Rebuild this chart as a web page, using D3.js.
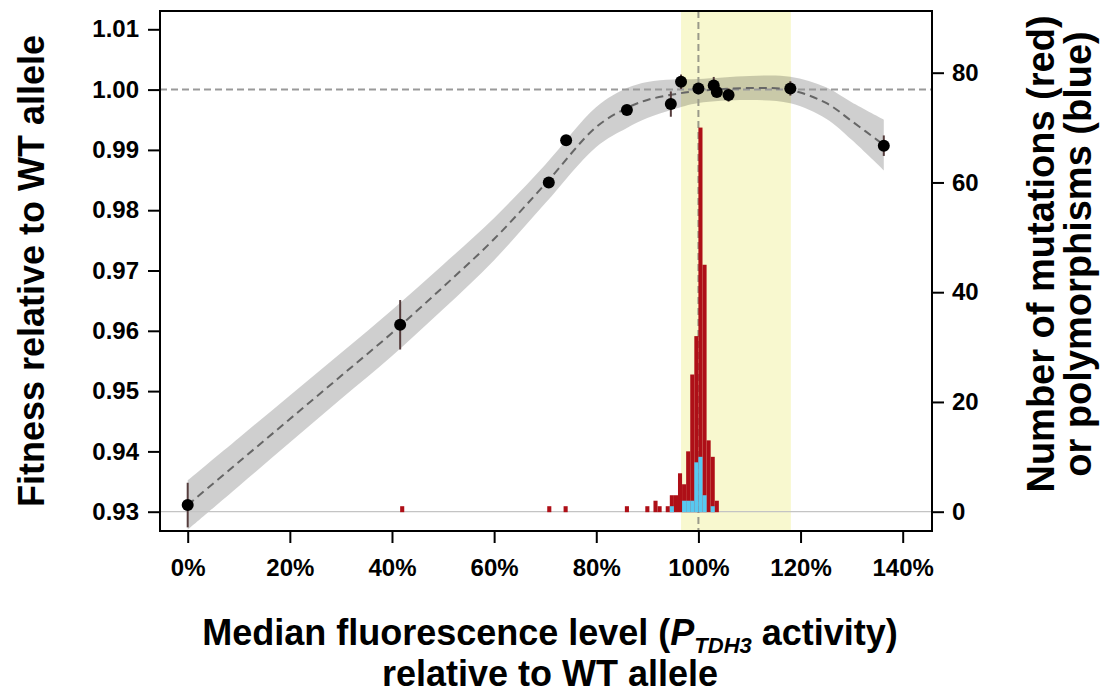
<!DOCTYPE html>
<html>
<head>
<meta charset="utf-8">
<script src="https://cdn.jsdelivr.net/npm/d3@7"></script>
<style>
  body { margin: 0; background: #fff; }
  svg { display: block; font-family: "Liberation Sans", Arial, Helvetica, sans-serif; }
</style>
</head>
<body>
<svg id="canvas"></svg>
<script>
// tick labels
let xTicks = [0, 20, 40, 60, 80, 100, 120, 140];
let yTicks = [0.93, 0.94, 0.95, 0.96, 0.97, 0.98, 0.99, 1.00, 1.01];
let countTicks = [0, 20, 40, 60, 80];

// fitness of each allele (x = % of WT fluorescence)
let pointX   = [0, 41.6, 70.7, 74.1, 86.0, 94.6, 96.6, 100.0, 103.0, 103.6, 105.9, 118.0, 136.3];
let pointFit = [0.9311, 0.9610, 0.9846, 0.9916, 0.9966, 0.9976, 1.0013, 1.0002, 1.0007, 0.9996, 0.9991, 1.0002, 0.9907];
let pointErr = [0.0037, 0.0041, 0.0008, 0.0008, 0.0008, 0.0021, 0.0012, 0.0008, 0.0014, 0.0008, 0.0011, 0.0012, 0.0017];

// fitted curve and its confidence band half width
let fitX    = [0, 10, 20, 30, 40, 50, 60, 70, 80, 86, 90, 95, 100, 110, 118, 125, 130, 136.3];
let fitY    = [0.93111, 0.93824, 0.94537, 0.95250, 0.95964, 0.96726, 0.97522, 0.98434, 0.99380, 0.99695, 0.99828, 0.99919, 0.99977, 1.00027, 0.99993, 0.99778, 0.99479, 0.99081];
let fitHalf = [0.0041, 0.0040, 0.0039, 0.0038, 0.0038, 0.0037, 0.0035, 0.0032, 0.0033, 0.0033, 0.0030, 0.0025, 0.0020, 0.0020, 0.0022, 0.0026, 0.0031, 0.0042];

// histograms (bin start, width 0.8%)
let binWidth = 0.8;
let redBins   = [41.6, 70.4, 73.6, 85.6, 89.6, 91.2, 92.0, 93.6, 94.4, 95.2, 96.0, 96.8, 97.6, 98.4, 99.2, 100.0, 100.8, 101.6, 102.4, 103.2];
let redCounts = [1, 1, 1, 1, 1, 2, 1, 1, 3, 3, 7, 5, 11, 25, 32, 70, 45, 13, 10, 2];
let blueBins   = [94.4, 96.8, 97.6, 98.4, 99.2, 100.0, 100.8, 102.4];
let blueCounts = [1, 2, 2, 2, 9, 10, 3, 1];

// highlighted range
let bandRange = [96.6, 118.1];

let width = 1100;
let height = 693;
let boxLeft = 160, boxRight = 932, boxTop = 11, boxBottom = 531;

let canvas = d3.select("#canvas").attr("width", width).attr("height", height);

let xScale = d3.scaleLinear().domain([0, 140]).range([187.7, 902.7]);
let yScale = d3.scaleLinear().domain([0.93, 1.01]).range([511.7, 29.3]);
let countScale = d3.scaleLinear().domain([0, 80]).range([511.7, 72.7]);

// yellow band
canvas.append("rect")
      .attr("x", xScale(bandRange[0]))
      .attr("y", boxTop)
      .attr("width", xScale(bandRange[1]) - xScale(bandRange[0]))
      .attr("height", boxBottom - boxTop)
      .attr("fill", "#f8f8cf");

// confidence band
let fitData = fitX.map((d, i) => ({x: d, y: fitY[i], h: fitHalf[i]}));
canvas.append("path")
      .datum(fitData)
      .attr("d", d3.area()
                   .x(d => xScale(d.x))
                   .y0(d => yScale(d.y - d.h))
                   .y1(d => yScale(d.y + d.h))
                   .curve(d3.curveCatmullRom))
      .attr("fill", "#000")
      .attr("fill-opacity", 0.19);

// zero line for counts
canvas.append("line")
      .attr("x1", boxLeft).attr("x2", boxRight)
      .attr("y1", countScale(0)).attr("y2", countScale(0))
      .attr("stroke", "#c4c4c4").attr("stroke-width", 1.2);

// reference lines
canvas.append("line")
      .attr("x1", boxLeft).attr("x2", boxRight)
      .attr("y1", yScale(1)).attr("y2", yScale(1))
      .attr("stroke", "#9a9a9a").attr("stroke-width", 2)
      .attr("stroke-dasharray", "7,4");
canvas.append("line")
      .attr("x1", xScale(100)).attr("x2", xScale(100))
      .attr("y1", boxTop).attr("y2", boxBottom)
      .attr("stroke", "#9a9a8a").attr("stroke-width", 2)
      .attr("stroke-dasharray", "7,4");

// histograms
let drawBars = (bins, counts, color) => {
  canvas.append("g")
        .selectAll("rect")
        .data(bins.map((b, i) => ({b: b, c: counts[i]})))
        .enter()
        .append("rect")
        .attr("x", d => xScale(d.b))
        .attr("width", d => xScale(d.b + binWidth) - xScale(d.b))
        .attr("y", d => countScale(d.c))
        .attr("height", d => countScale(0) - countScale(d.c) + 0.5)
        .attr("fill", color);
};
drawBars(redBins, redCounts, "#ae0f17");
drawBars(blueBins, blueCounts, "#58c9f0");

// fitted curve
canvas.append("path")
      .datum(fitData)
      .attr("d", d3.line()
                   .x(d => xScale(d.x))
                   .y(d => yScale(d.y))
                   .curve(d3.curveCatmullRom))
      .attr("fill", "none")
      .attr("stroke", "#666")
      .attr("stroke-width", 2)
      .attr("stroke-dasharray", "8,5");

// error bars and points
let points = pointX.map((d, i) => ({x: d, y: pointFit[i], e: pointErr[i]}));
canvas.append("g")
      .selectAll("line")
      .data(points)
      .enter()
      .append("line")
      .attr("x1", d => xScale(d.x)).attr("x2", d => xScale(d.x))
      .attr("y1", d => yScale(d.y - d.e)).attr("y2", d => yScale(d.y + d.e))
      .attr("stroke", "#563d3d").attr("stroke-width", 2);
canvas.append("g")
      .selectAll("circle")
      .data(points)
      .enter()
      .append("circle")
      .attr("cx", d => xScale(d.x))
      .attr("cy", d => yScale(d.y))
      .attr("r", 6)
      .attr("fill", "#000");

// box
canvas.append("rect")
      .attr("x", boxLeft).attr("y", boxTop)
      .attr("width", boxRight - boxLeft).attr("height", boxBottom - boxTop)
      .attr("fill", "none").attr("stroke", "#000").attr("stroke-width", 2);

// axes
let styleAxis = (g) => {
  g.select(".domain").remove();
  g.selectAll(".tick line").attr("stroke", "#000").attr("stroke-width", 2);
  g.selectAll("text")
   .attr("fill", "#000")
   .style("font-size", "24px")
   .style("font-weight", "bold")
   .style("font-family", "'Liberation Sans', Arial, sans-serif");
};

canvas.append("g")
      .attr("transform", "translate(0," + boxBottom + ")")
      .call(d3.axisBottom(xScale).tickValues(xTicks).tickSize(12).tickPadding(16).tickFormat(d => d + "%"))
      .call(styleAxis);

canvas.append("g")
      .attr("transform", "translate(" + boxLeft + ",0)")
      .call(d3.axisLeft(yScale).tickValues(yTicks).tickSize(12).tickPadding(9).tickFormat(d3.format(".2f")))
      .call(styleAxis);

canvas.append("g")
      .attr("transform", "translate(" + boxRight + ",0)")
      .call(d3.axisRight(countScale).tickValues(countTicks).tickSize(12).tickPadding(8))
      .call(styleAxis);

// titles
let title = (x, y, rot, size) => canvas.append("text")
      .attr("transform", "translate(" + x + "," + y + ")" + (rot ? " rotate(-90)" : ""))
      .attr("text-anchor", "middle")
      .attr("font-size", size || 36)
      .attr("font-weight", "bold")
      .attr("fill", "#000");

title(31, 271, true).attr("dy", "0.36em").text("Fitness relative to WT allele");
title(1040, 254, true, 38).attr("dy", "0.36em").text("Number of mutations (red)");
title(1077, 254, true, 38).attr("dy", "0.36em").text("or polymorphisms (blue)");

let xt = title(550, 645, false);
xt.append("tspan").text("Median fluorescence level (");
xt.append("tspan").attr("font-style", "italic").text("P");
xt.append("tspan").attr("font-style", "italic").attr("font-size", 22).attr("dy", 8).text("TDH3");
xt.append("tspan").attr("dy", -8).text(" activity)");
title(550, 686, false).text("relative to WT allele");
</script>
</body>
</html>
